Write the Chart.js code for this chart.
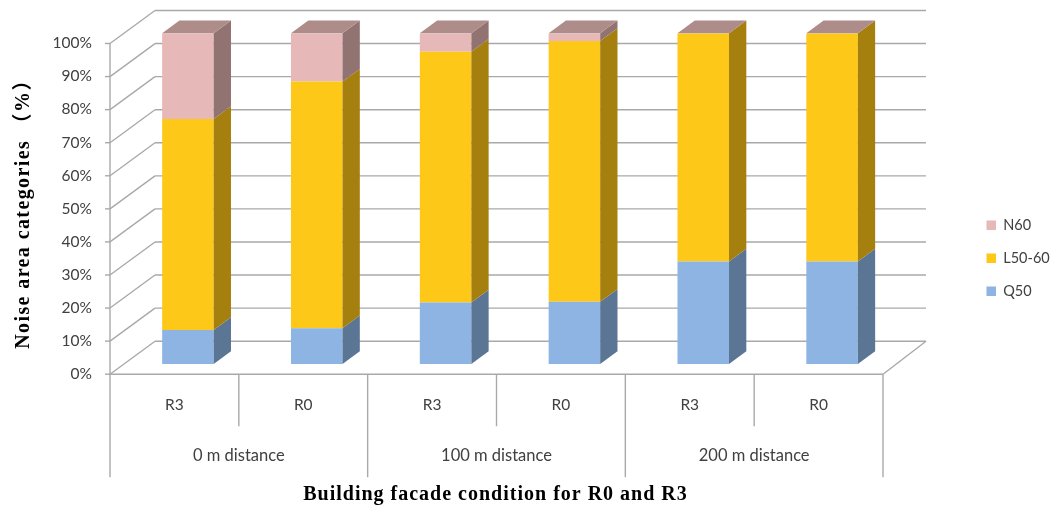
<!DOCTYPE html>
<html>
<head>
<meta charset="utf-8">
<style>
  html, body { margin: 0; padding: 0; background: #fff; }
  canvas { display: block; }
</style>
<script src="https://cdn.jsdelivr.net/npm/chart.js@4"></script>
</head>
<body>
<canvas id="chart" width="1051" height="506"></canvas>
<script>
const categories = ['R3', 'R0', 'R3', 'R0', 'R3', 'R0'];
const groups = ['0 m distance', '100 m distance', '200 m distance'];
const q50 = [10.3, 10.8, 18.6, 18.8, 31, 31];
const l50_60 = [63.8, 74.6, 75.8, 78.9, 69, 69];
const n60 = [25.9, 14.6, 5.6, 2.3, 0, 0];

const xTitle = 'Building facade condition for R0 and R3';
const yTitle = 'Noise area categories （%）';

const gridColor = '#a9a9a9';
const textColor = '#404040';
const sansFont = 'Lato, "Noto Sans", sans-serif';
const serifFont = '"Liberation Serif", "Noto Sans CJK SC", serif';

function line(ctx, x1, y1, x2, y2) {
    ctx.beginPath();
    ctx.moveTo(x1, y1);
    ctx.lineTo(x2, y2);
    ctx.stroke();
}

// back wall, floor and the two level axis under it
const wallPlugin = {
    id: 'wall',
    beforeDatasetsDraw(chart) {
        const { ctx, scales: { x, y } } = chart;
        const step = x.getPixelForTick(1) - x.getPixelForTick(0);
        const left = x.getPixelForTick(0) - step / 2 - 13.5;
        const right = left + step * 6;
        const drop = 10.2;

        ctx.save();
        ctx.strokeStyle = gridColor;
        ctx.lineWidth = 1.4;
        for (let v = 0; v <= 100; v += 10) {
            const fy = y.getPixelForValue(v) + drop;
            line(ctx, left - 5, fy, left, fy);
            line(ctx, left, fy, left + 45, fy - 33);
            line(ctx, left + 45, fy - 33, right + 43, fy - 33);
        }
        const floorY = y.getPixelForValue(0) + drop;
        const topY = y.getPixelForValue(100) + drop;
        line(ctx, left, topY, left, floorY + 103);
        line(ctx, left, floorY, right, floorY);
        line(ctx, right, floorY, right + 43, floorY - 33);
        categories.forEach((c, i) => {
            if (i === 0) return;
            const sep = left + step * i;
            line(ctx, sep, floorY, sep, floorY + (i % 2 === 0 ? 103 : 52));
        });
        line(ctx, right, floorY, right, floorY + 103);

        ctx.fillStyle = textColor;
        ctx.font = '16.5px ' + sansFont;
        ctx.textAlign = 'center';
        ctx.textBaseline = 'middle';
        groups.forEach((g, i) => {
            ctx.fillText(g, left + step * (i * 2 + 1), floorY + 81);
        });

        ctx.fillStyle = '#000';
        ctx.font = 'bold 20px ' + serifFont;
        ctx.letterSpacing = '1px';
        ctx.fillText(xTitle, 495.5, 495);
        ctx.letterSpacing = '1.4px';
        ctx.translate(24, 209);
        ctx.rotate(-Math.PI / 2);
        ctx.fillText(yTitle, 0, 0);
        ctx.restore();
    },
    // side and top faces of the bars
    afterDatasetsDraw(chart) {
        const ctx = chart.ctx;
        const dx = 17.3, dy = -12.7;
        const sides = ['#5b7595', '#a6800f', '#917472'];
        ctx.save();
        chart.data.datasets.forEach((ds, d) => {
            chart.getDatasetMeta(d).data.forEach((bar) => {
                const r = bar.x + bar.width / 2;
                const l = bar.x - bar.width / 2;
                if (bar.base - bar.y > 0) {
                    ctx.fillStyle = sides[d];
                    ctx.beginPath();
                    ctx.moveTo(r, bar.y);
                    ctx.lineTo(r + dx, bar.y + dy);
                    ctx.lineTo(r + dx, bar.base + dy);
                    ctx.lineTo(r, bar.base);
                    ctx.closePath();
                    ctx.fill();
                }
                if (d === chart.data.datasets.length - 1) {
                    ctx.fillStyle = '#ae8c8a';
                    ctx.beginPath();
                    ctx.moveTo(l, bar.y);
                    ctx.lineTo(l + dx, bar.y + dy);
                    ctx.lineTo(r + dx, bar.y + dy);
                    ctx.lineTo(r, bar.y);
                    ctx.closePath();
                    ctx.fill();
                }
            });
        });
        ctx.restore();
    },
    afterLayout(chart) {
        // legend sits right of the floor, not inside the plot
        const legend = chart.legend;
        legend.left = 968;
        legend.right = 1051;
        legend.top = 199.5;
        legend.bottom = 330;
    }
};

new Chart(document.getElementById('chart'), {
    type: 'bar',
    data: {
        labels: categories,
        datasets: [
            { label: 'Q50', data: q50, backgroundColor: '#8eb4e3' },
            { label: 'L50-60', data: l50_60, backgroundColor: '#fec818' },
            { label: 'N60', data: n60, backgroundColor: '#e6b8b7' }
        ]
    },
    options: {
        responsive: false,
        animation: false,
        layout: { padding: { top: 33.3, right: 154.5, bottom: 0, left: 0 } },
        datasets: { bar: { categoryPercentage: 1, barPercentage: 0.4 } },
        scales: {
            x: {
                stacked: true,
                grid: { display: false },
                border: { display: false },
                afterFit(axis) {
                    axis.height = 142;
                    axis.paddingLeft = 0;
                    axis.paddingRight = 0;
                },
                ticks: {
                    color: textColor,
                    font: { family: sansFont, size: 15.5 },
                    padding: 24,
                    labelOffset: -13.5,
                    autoSkip: false,
                    maxRotation: 0
                }
            },
            y: {
                stacked: true,
                min: 0,
                max: 100,
                grid: { display: false },
                border: { display: false },
                afterFit(axis) {
                    axis.width = 123.5;
                    axis.paddingTop = 0;
                    axis.paddingBottom = 0;
                },
                ticks: {
                    stepSize: 10,
                    color: textColor,
                    font: { family: sansFont, size: 15.5 },
                    padding: 23.5,
                    labelOffset: 10,
                    callback: (v) => v + '%'
                }
            }
        },
        plugins: {
            tooltip: { enabled: false },
            legend: {
                position: 'chartArea',
                align: 'start',
                reverse: true,
                labels: {
                    boxWidth: 9.5,
                    boxHeight: 9.5,
                    padding: 18.5,
                    color: textColor,
                    font: { family: sansFont, size: 14.5, lineHeight: 1.2 }
                }
            }
        }
    },
    plugins: [wallPlugin]
});
</script>
</body>
</html>
